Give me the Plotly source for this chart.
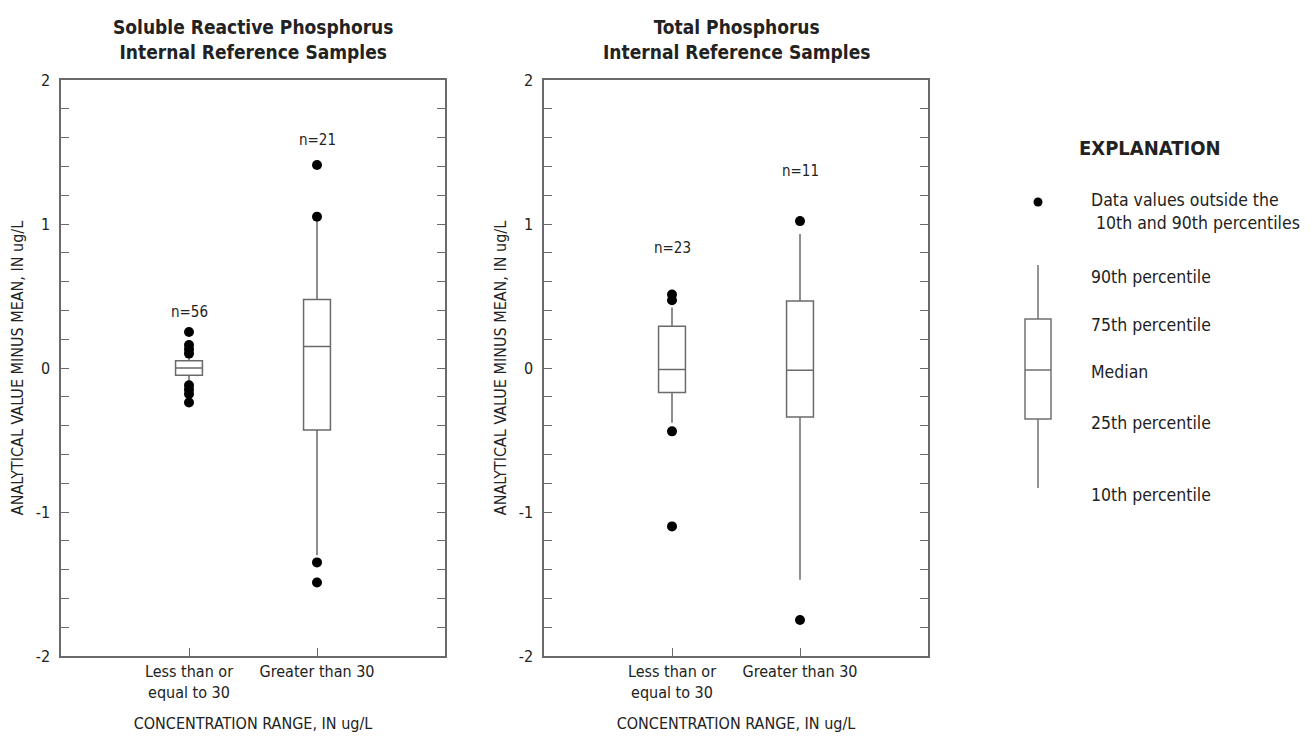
import plotly.graph_objects as go

PAGE_W, PAGE_H = 1316, 741
PAD = 8  # default body margin of the page
W, H = PAGE_W - 2 * PAD, PAGE_H - 2 * PAD
FONT = "Liberation Sans Narrow, DejaVu Sans Condensed, Arial Narrow, sans-serif"
TXT = "#222222"
LINE = "#6a6a6a"

# ---------------- data ----------------
categories = ["Less than or<br>equal to 30", "Greater than 30"]
cat_pos = [0, 1]

# Soluble Reactive Phosphorus
srp_q1 = [-0.05, -0.43]
srp_median = [0.0, 0.15]
srp_q3 = [0.05, 0.475]
srp_low = [-0.09, -1.30]
srp_high = [0.08, 1.05]
srp_outliers = [[0.25, 0.16, 0.13, 0.10, -0.12, -0.15, -0.18, -0.24],
                [1.41, 1.05, -1.35, -1.49]]
srp_n = ["n=56", "n=21"]
srp_n_y = [0.39, 1.58]

# Total Phosphorus
tp_q1 = [-0.17, -0.34]
tp_median = [-0.01, -0.015]
tp_q3 = [0.29, 0.465]
tp_low = [-0.38, -1.47]
tp_high = [0.42, 0.93]
tp_outliers = [[0.51, 0.47, -0.44, -1.10],
               [1.02, -1.75]]
tp_n = ["n=23", "n=11"]
tp_n_y = [0.83, 1.37]

ytick_vals = [-2, -1, 0, 1, 2]
ytick_text = ["-2", "-1", "0", "1", "2"]

# ---------------- helpers (page pixels -> paper) ----------------
def px(x):
    return (x - PAD) / W


def py(y):
    return 1 - (y - PAD) / H


fig = go.Figure()

panels = [
    dict(x="x", y="y", q1=srp_q1, med=srp_median, q3=srp_q3, lo=srp_low, hi=srp_high,
         out=srp_outliers, n=srp_n, ny=srp_n_y),
    dict(x="x2", y="y2", q1=tp_q1, med=tp_median, q3=tp_q3, lo=tp_low, hi=tp_high,
         out=tp_outliers, n=tp_n, ny=tp_n_y),
]

for p in panels:
    fig.add_trace(go.Box(
        x=cat_pos, q1=p["q1"], median=p["med"], q3=p["q3"],
        lowerfence=p["lo"], upperfence=p["hi"],
        width=0.21, whiskerwidth=0, boxpoints=False,
        fillcolor="white", line=dict(color=LINE, width=1.5),
        xaxis=p["x"], yaxis=p["y"], showlegend=False, hoverinfo="skip",
    ))
    for xi, vals in zip(cat_pos, p["out"]):
        fig.add_trace(go.Scatter(
            x=[xi] * len(vals), y=vals, mode="markers",
            marker=dict(color="black", size=10),
            xaxis=p["x"], yaxis=p["y"], showlegend=False, hoverinfo="skip",
        ))
    for xi, label, yv in zip(cat_pos, p["n"], p["ny"]):
        fig.add_annotation(x=xi, y=yv, xref=p["x"], yref=p["y"], text=label,
                           xanchor="center", yanchor="middle",
                           showarrow=False, font=dict(family=FONT, size=15, color=TXT))

ydom = [py(656), py(80)]
xdom1 = [px(61), px(445)]
xdom2 = [px(544), px(928)]

xcommon = dict(range=[-1, 2], tickvals=cat_pos, ticktext=categories,
               ticks="inside", ticklen=8, tickcolor=LINE, showline=True, linecolor=LINE,
               linewidth=1.5, mirror=True, showgrid=False, zeroline=False,
               tickfont=dict(family=FONT, size=16, color=TXT),
               title=dict(text="CONCENTRATION RANGE, IN ug/L",
                          font=dict(family=FONT, size=16, color=TXT), standoff=24))
ycommon = dict(range=[-2, 2], tickvals=ytick_vals, ticktext=ytick_text,
               ticks="inside", ticklen=8, ticklabelstandoff=6,
               tickcolor=LINE, showline=True, linecolor=LINE, linewidth=1.5,
               mirror="ticks", showgrid=False, zeroline=False,
               minor=dict(dtick=0.2, ticks="inside", ticklen=8, tickcolor=LINE, showgrid=False),
               tickfont=dict(family=FONT, size=16, color=TXT),
               title=dict(text="ANALYTICAL VALUE MINUS MEAN, IN ug/L",
                          font=dict(family=FONT, size=16, color=TXT), standoff=8))

fig.update_layout(
    width=W, height=H,
    margin=dict(l=0, r=0, t=0, b=0, autoexpand=False),
    paper_bgcolor="white", plot_bgcolor="white",
    xaxis=dict(domain=xdom1, anchor="y", **xcommon),
    yaxis=dict(domain=ydom, anchor="x", **ycommon),
    xaxis2=dict(domain=xdom2, anchor="y2", **xcommon),
    yaxis2=dict(domain=ydom, anchor="x2", **ycommon),
)

# Titles
for dom, title in [(xdom1, "Soluble Reactive Phosphorus<br>Internal Reference Samples"),
                   (xdom2, "Total Phosphorus<br>Internal Reference Samples")]:
    fig.add_annotation(x=(dom[0] + dom[1]) / 2, y=py(40), xref="paper", yref="paper",
                       text="<b>" + title + "</b>", showarrow=False,
                       xanchor="center", yanchor="middle",
                       font=dict(family=FONT, size=19, color=TXT))

# ---------------- explanation (legend) ----------------
fig.add_annotation(x=px(1077), y=py(148), xref="paper", yref="paper", xanchor="left",
                   yanchor="middle", text="<b>EXPLANATION</b>", showarrow=False,
                   font=dict(family=FONT, size=20, color=TXT))

fig.add_shape(type="circle", xref="paper", yref="paper", xsizemode="pixel", ysizemode="pixel",
              xanchor=px(1038), yanchor=py(202), x0=-4.5, x1=4.5, y0=-4.5, y1=4.5,
              fillcolor="black", line=dict(color="black", width=0))

lg_x, lg_l, lg_r = 1038, 1025, 1051
shape_line = dict(color="#707070", width=1.5)
fig.add_shape(type="line", xref="paper", yref="paper", x0=px(lg_x), x1=px(lg_x),
              y0=py(265), y1=py(319), line=shape_line)
fig.add_shape(type="line", xref="paper", yref="paper", x0=px(lg_x), x1=px(lg_x),
              y0=py(419), y1=py(488), line=shape_line)
fig.add_shape(type="rect", xref="paper", yref="paper", x0=px(lg_l), x1=px(lg_r),
              y0=py(319), y1=py(419), line=shape_line, fillcolor="white")
fig.add_shape(type="line", xref="paper", yref="paper", x0=px(lg_l), x1=px(lg_r),
              y0=py(370), y1=py(370), line=shape_line)

legend_labels = [
    ("Data values outside the<br> 10th and 90th percentiles", 211),
    ("90th percentile", 277),
    ("75th percentile", 325),
    ("Median", 372),
    ("25th percentile", 423),
    ("10th percentile", 495),
]
for text, yy in legend_labels:
    fig.add_annotation(x=px(1089), y=py(yy), xref="paper", yref="paper", xanchor="left",
                       yanchor="middle", align="left", text=text, showarrow=False,
                       font=dict(family=FONT, size=17.5, color=TXT))

fig.write_html("out.html")
